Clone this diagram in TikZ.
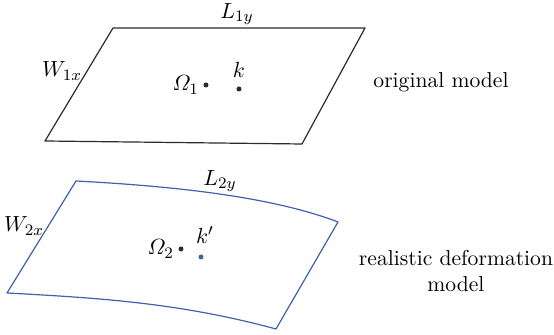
\documentclass[tikz,border=0pt]{standalone}
\usepackage{amsmath}
\definecolor{plane}{HTML}{2B2B2B}
\definecolor{deform}{HTML}{3E62A8}
\usetikzlibrary{positioning}

\begin{document}
\begin{tikzpicture}[x=0.5pt, y=-0.5pt, line join=round, line cap=round,
    font=\fontsize{10.8}{13}\selectfont]
    \useasboundingbox (0,0) rectangle (554,335);

    % Corners of the original (flat) plate
    \coordinate (A1) at (113, 28);    % top left
    \coordinate (B1) at (365, 28);    % top right
    \coordinate (C1) at (302, 144);   % bottom right
    \coordinate (D1) at (45, 141);    % bottom left

    % Corners of the deformed plate
    \coordinate (A2) at (76, 181);
    \coordinate (B2) at (338, 222);
    \coordinate (C2) at (276, 329);
    \coordinate (D2) at (7, 293);

    % Original plate
    \draw[plane, semithick] (A1) -- (B1) -- (C1) -- (D1) -- cycle;

    % Deformed plate, bowed edges
    \draw[deform, semithick] (A2) .. controls (170, 186) and (270, 196) .. (B2)
        -- (C2) .. controls (180, 303) and (100, 298) .. (D2) -- cycle;

    % Points
    \fill[plane]  (206, 85) circle (2.5) coordinate (O1);
    \fill[plane]  (239, 89) circle (2.5) coordinate (K1);
    \fill[plane]  (181, 249) circle (2.5) coordinate (O2);
    \fill[deform] (201, 257) circle (2.5) coordinate (K2);

    % Labels
    \node (L1) at (237, 14) {$L_{1y}$};
    \node (W1) at (62, 71) {$W_{1x}$};
    \node[left=0pt of O1] (o1) {$\varOmega_1$};
    \node[above=2pt of K1] (k1) {$k$};
    \node (L2) at (220, 181) {$L_{2y}$};
    \node (W2) at (24, 226) {$W_{2x}$};
    \node[left=0pt of O2] (o2) {$\varOmega_2$};
    \node[above=3pt of K2, xshift=2pt] (k2) {$k'$};

    % Captions
    \node (cap1) at (441, 82) {original model};
    \node[align=center] (cap2) at (456, 271) {realistic deformation\\ model};
\end{tikzpicture}
\end{document}
